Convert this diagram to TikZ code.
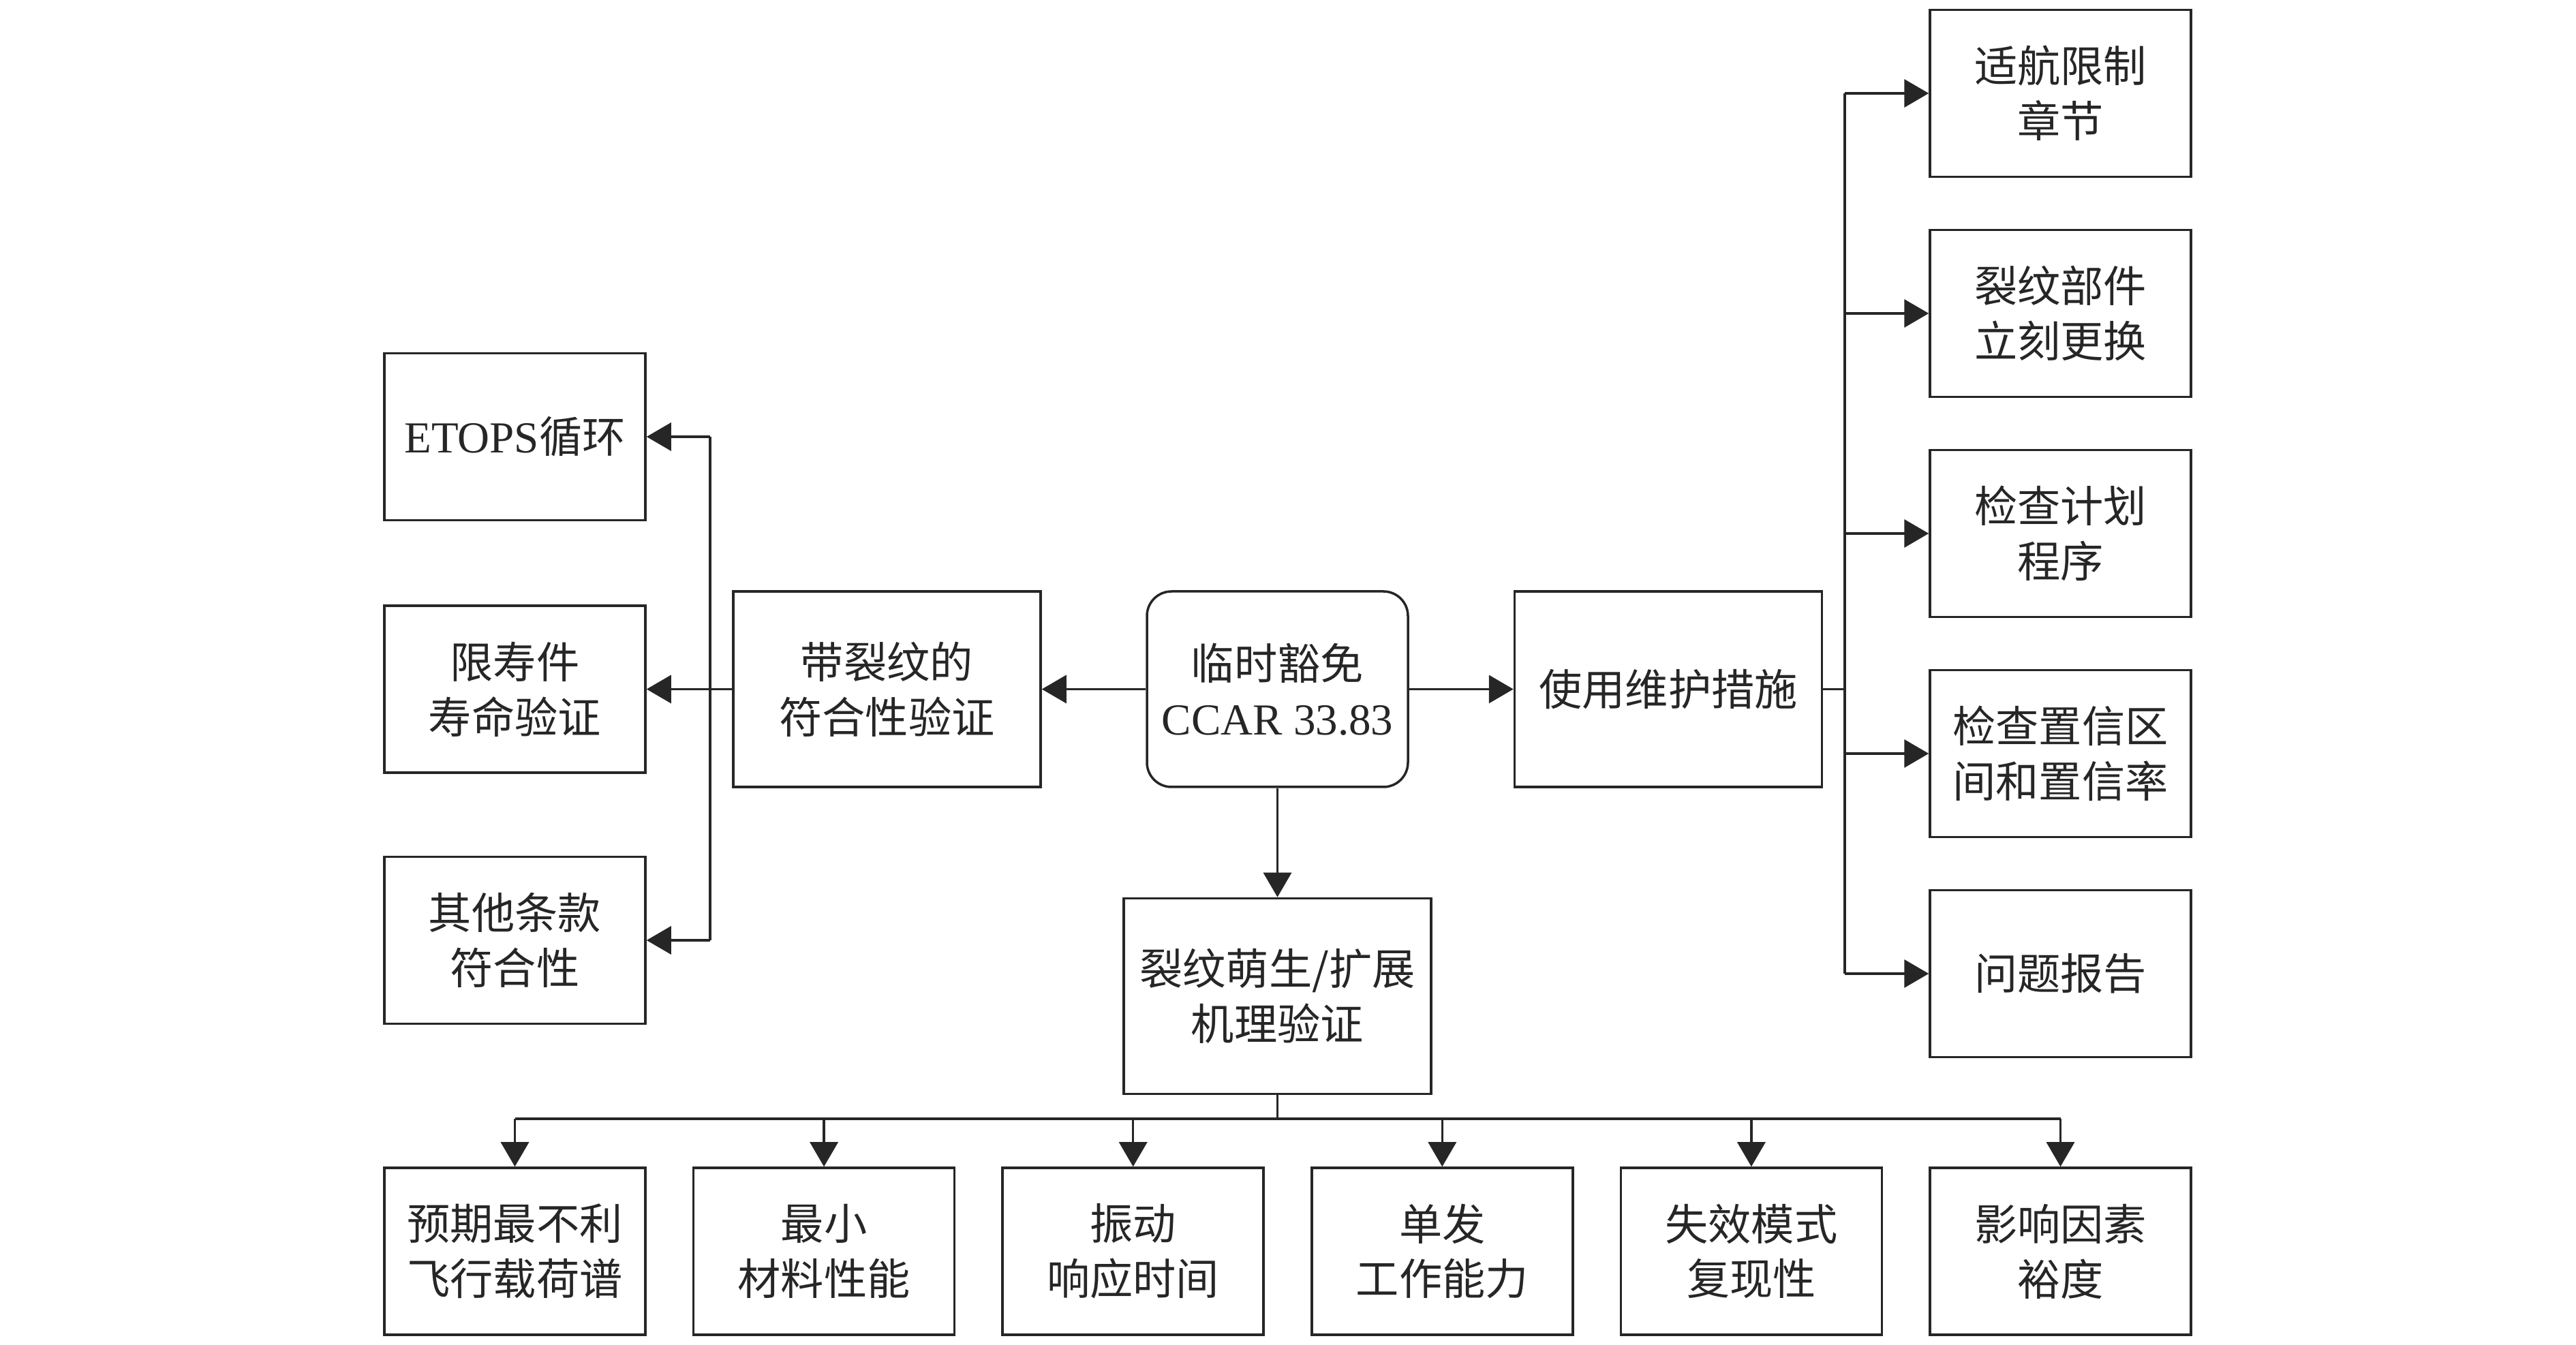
\documentclass[tikz,border=0pt]{standalone}
\usepackage{fontspec}
\usepackage{tikz}
\usetikzlibrary{arrows.meta,positioning}
\newfontfamily\cjk{Noto Sans CJK SC}
\newfontfamily\tnr{Liberation Serif}
\definecolor{inkc}{RGB}{38,38,38}

\begin{document}
\begin{tikzpicture}[line width=1pt,draw=inkc,
  box/.style={draw=inkc,minimum width=3.83cm,minimum height=2.45cm,inner sep=0pt,align=center,
    font=\cjk\fontsize{18}{23}\selectfont,text=inkc},
  wbox/.style={box,minimum width=4.51cm,minimum height=2.87cm},
  arr/.style={-{Triangle[length=0.36cm,width=0.41cm]},inkc}]
\useasboundingbox (0,0) rectangle (37.8,19.74);

% centre
\node[box,rounded corners=0.36cm,minimum height=2.87cm] (waiver) at (18.745,9.625) {临时豁免\\{\tnr\fontsize{18.5}{23}\selectfont CCAR 33.83}};
\node[wbox] (crack) at (13.015,9.625) {带裂纹的\\符合性验证};
\node[wbox] (maint) at (24.48,9.625) {使用维护措施};
\node[wbox] (mech) at (18.745,5.12) {裂纹萌生/扩展\\机理验证};

% left column
\node[box] (etops) at (7.555,13.33) {{\tnr\fontsize{18.5}{23}\selectfont ETOPS}循环};
\node[box] (life) at (7.555,9.625) {限寿件\\寿命验证};
\node[box] (other) at (7.555,5.94) {其他条款\\符合性};

% right column
\node[box] (r1) at (30.235,18.37) {适航限制\\章节};
\node[box] (r2) at (30.235,15.14) {裂纹部件\\立刻更换};
\node[box] (r3) at (30.235,11.91) {检查计划\\程序};
\node[box] (r4) at (30.235,8.68) {检查置信区\\间和置信率};
\node[box] (r5) at (30.235,5.45) {问题报告};

% bottom row
\node[box] (b1) at (7.555,1.375) {预期最不利\\飞行载荷谱};
\node[box] (b2) at (12.091,1.375) {最小\\材料性能};
\node[box] (b3) at (16.627,1.375) {振动\\响应时间};
\node[box] (b4) at (21.163,1.375) {单发\\工作能力};
\node[box] (b5) at (25.699,1.375) {失效模式\\复现性};
\node[box] (b6) at (30.235,1.375) {影响因素\\裕度};

% arrows from the centre
\draw[arr] (waiver) -- (crack);
\draw[arr] (waiver) -- (maint);
\draw[arr] (waiver) -- (mech);

% left bus
\coordinate (lbus) at (10.42,9.625);
\draw (crack) -- (lbus);
\draw (lbus |- etops) -- (lbus |- other);
\foreach \n in {etops,life,other}
  \draw[arr] (lbus |- \n) -- (\n);

% right bus
\coordinate (rbus) at (27.07,9.625);
\draw (maint) -- (rbus);
\draw (rbus |- r1) -- (rbus |- r5);
\foreach \n in {r1,r2,r3,r4,r5}
  \draw[arr] (rbus |- \n) -- (\n);

% bottom bus
\coordinate (bbus) at (18.745,3.32);
\draw (mech) -- (bbus);
\draw (bbus -| b1) -- (bbus -| b6);
\foreach \n in {b1,b2,b3,b4,b5,b6}
  \draw[arr] (bbus -| \n) -- (\n);
\end{tikzpicture}
\end{document}
